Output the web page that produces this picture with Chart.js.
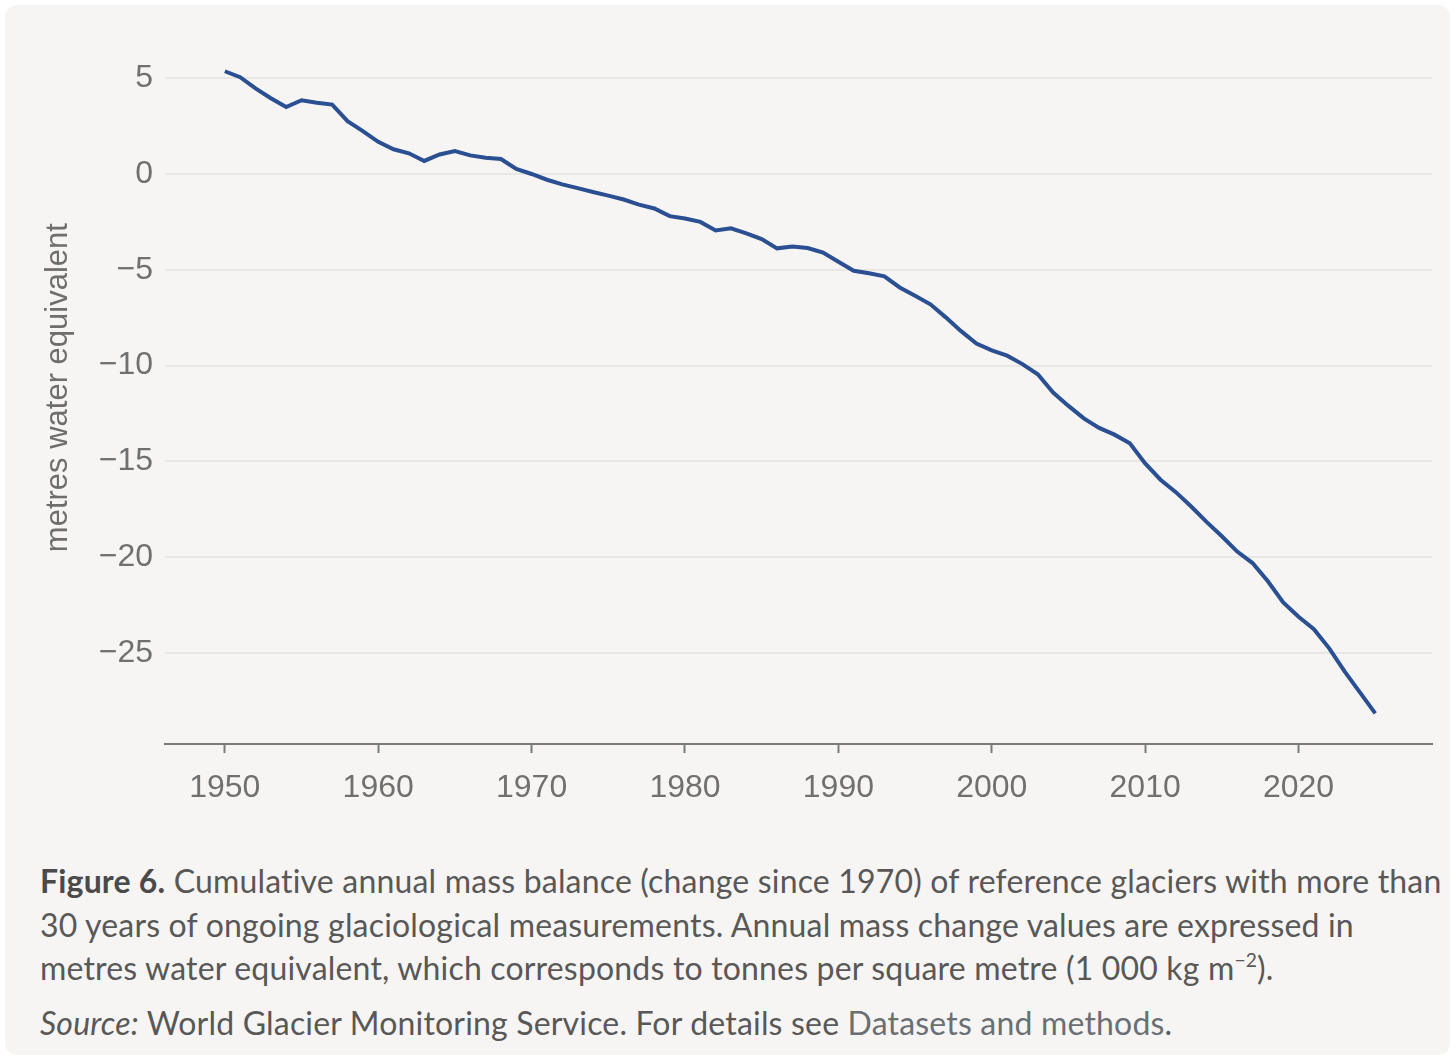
<!DOCTYPE html>
<html lang="en">
<head>
<meta charset="utf-8">
<title>Cumulative annual mass balance of reference glaciers</title>
<script src="https://cdn.jsdelivr.net/npm/chart.js@4/dist/chart.umd.min.js"></script>
<style>
    html, body {
        margin: 0;
        padding: 0;
        background: #ffffff;
    }
    #page {
        position: relative;
        width: 1456px;
        height: 1062px;
        overflow: hidden;
    }
    #card {
        position: absolute;
        left: 5px;
        top: 5px;
        width: 1445px;
        height: 1050px;
        border-radius: 12px;
        background: #f6f5f3;
    }
    #myChart {
        position: absolute;
        left: 0;
        top: 0;
    }
    #caption {
        position: absolute;
        left: 40px;
        top: 859px;
        font-family: Lato, "Noto Sans", sans-serif;
        font-size: 32px;
        letter-spacing: 0.18px;
        color: #585858;
        white-space: nowrap;
    }
    #caption p {
        margin: 0 0 11px 0;
        line-height: 43.5px;
    }
    #caption b {
        color: #4a4a4a;
    }
    #caption sup {
        font-size: 60%;
        line-height: 0;
        vertical-align: 0;
        position: relative;
        top: -0.7em;
    }
    #caption .link {
        color: #6a6f73;
    }
</style>
</head>
<body>
<div id="page">
    <div id="card"></div>
    <canvas id="myChart" width="1456" height="830"></canvas>
    <div id="caption">
        <p><b>Figure 6.</b> Cumulative annual mass balance (change since 1970) of reference glaciers with more than<br>30 years of ongoing glaciological measurements. Annual mass change values are expressed in<br>metres water equivalent, which corresponds to tonnes per square metre (1 000 kg m<sup>−2</sup>).</p>
        <p><i>Source:</i> World Glacier Monitoring Service. For details see <span class="link">Datasets and methods</span>.</p>
    </div>
</div>
<script>
// years of the series
const years = [
    1950, 1951, 1952, 1953, 1954, 1955, 1956, 1957, 1958, 1959,
    1960, 1961, 1962, 1963, 1964, 1965, 1966, 1967, 1968, 1969,
    1970, 1971, 1972, 1973, 1974, 1975, 1976, 1977, 1978, 1979,
    1980, 1981, 1982, 1983, 1984, 1985, 1986, 1987, 1988, 1989,
    1990, 1991, 1992, 1993, 1994, 1995, 1996, 1997, 1998, 1999,
    2000, 2001, 2002, 2003, 2004, 2005, 2006, 2007, 2008, 2009,
    2010, 2011, 2012, 2013, 2014, 2015, 2016, 2017, 2018, 2019,
    2020, 2021, 2022, 2023, 2024, 2025,
];

// cumulative mass balance (m w.e.)
const massBalance = [
    5.36, 5.05, 4.47, 3.95, 3.49, 3.85, 3.72, 3.62, 2.76, 2.24,
    1.68, 1.29, 1.08, 0.68, 1.02, 1.20, 0.97, 0.85, 0.78, 0.26,
    0.00, -0.30, -0.54, -0.74, -0.94, -1.13, -1.33, -1.60, -1.80, -2.20,
    -2.32, -2.50, -2.95, -2.83, -3.10, -3.40, -3.88, -3.78, -3.86, -4.10,
    -4.58, -5.05, -5.18, -5.34, -5.92, -6.35, -6.80, -7.48, -8.20, -8.85,
    -9.20, -9.48, -9.92, -10.45, -11.40, -12.10, -12.75, -13.25, -13.60, -14.05,
    -15.10, -15.95, -16.60, -17.35, -18.15, -18.90, -19.70, -20.30, -21.25, -22.35,
    -23.10, -23.75, -24.75, -25.95, -27.05, -28.14,
];

// axis ticks
const xTicks = [1950, 1960, 1970, 1980, 1990, 2000, 2010, 2020];
const yTicks = [-25, -20, -15, -10, -5, 0, 5];

const yTitle = 'metres water equivalent';

const main = () => {
    createChart(years, massBalance);
};

/**
 * Formats a y tick with a real minus sign.
 * @param {number} value
 */
const formatY = (value) => {
    if (value < 0) {
        return '\u2212' + Math.abs(value);
    }
    return String(value);
};

/**
 * Builds the line chart.
 * @param {Array<number>} labels years
 * @param {Array<number>} values cumulative balance
 */
const createChart = (labels, values) => {
    const points = labels.map((year, i) => ({ x: year, y: values[i] }));

    const tickFont = {
        family: '"Liberation Sans", Arial, sans-serif',
        size: 32,
    };

    const config = {
        type: 'line',
        data: {
            datasets: [
                {
                    data: points,
                    borderColor: '#2a4f92',
                    borderWidth: 4,
                    pointRadius: 0,
                    tension: 0,
                    fill: false,
                },
            ],
        },
        options: {
            responsive: false,
            animation: false,
            layout: {
                padding: { top: 10, right: 24, bottom: 0, left: 0 },
            },
            plugins: {
                legend: { display: false },
                tooltip: { enabled: false },
            },
            scales: {
                x: {
                    type: 'linear',
                    min: 1946.1,
                    max: 2028.7,
                    afterFit: (scale) => {
                        scale.height = 830 - 744;
                    },
                    afterBuildTicks: (scale) => {
                        scale.ticks = xTicks.map((v) => ({ value: v }));
                    },
                    border: {
                        display: true,
                        color: '#7a7a7a',
                        width: 2,
                    },
                    grid: {
                        drawOnChartArea: false,
                        drawTicks: true,
                        tickLength: 9,
                        tickColor: '#7a7a7a',
                        tickWidth: 2,
                    },
                    ticks: {
                        font: tickFont,
                        color: '#707070',
                        padding: 16,
                        maxRotation: 0,
                        callback: (value) => String(value),
                    },
                },
                y: {
                    min: -29.74,
                    max: 7.45,
                    afterFit: (scale) => {
                        scale.width = 165;
                    },
                    afterBuildTicks: (scale) => {
                        scale.ticks = yTicks.map((v) => ({ value: v }));
                    },
                    border: { display: false },
                    grid: {
                        color: '#e9e7e3',
                        lineWidth: 2,
                        drawTicks: false,
                    },
                    ticks: {
                        font: tickFont,
                        color: '#707070',
                        padding: 12,
                        callback: formatY,
                    },
                    title: {
                        display: true,
                        text: yTitle,
                        color: '#6e6e6e',
                        font: {
                            family: '"Liberation Sans", Arial, sans-serif',
                            size: 31,
                        },
                        padding: { top: 40, bottom: 0 },
                    },
                },
            },
        },
    };

    const chart = new Chart(document.getElementById('myChart'), config);

    return chart;
};

main();
</script>
</body>
</html>
